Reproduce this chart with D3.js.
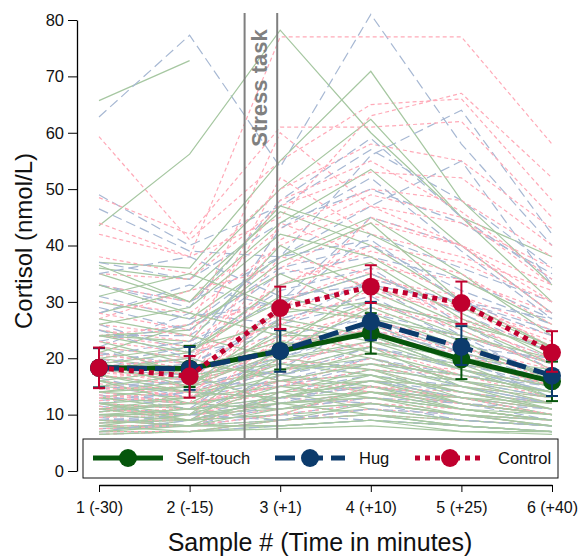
<!DOCTYPE html>
<html><head><meta charset="utf-8">
<script src="https://cdn.jsdelivr.net/npm/d3@7"></script>
<style>body{margin:0;background:#fff}svg{font-family:"Liberation Sans",Arial,sans-serif}</style>
</head><body><svg id="c" width="578" height="559"></svg>
<script>
const xLabels = ["1 (-30)","2 (-15)","3 (+1)","4 (+10)","5 (+25)","6 (+40)"];
const yTicks = [0,10,20,30,40,50,60,70,80];
const seriesNames = ["Self-touch","Hug","Control"];
const meanSelfTouch = [18.3, 18.2, 21.3, 24.5, 19.8, 15.9];
const loSelfTouch = [14.8, 14.9, 18.0, 20.8, 16.3, 12.4];
const hiSelfTouch = [21.8, 22.2, 25.0, 28.0, 23.4, 19.4];
const meanHug = [18.3, 18.1, 21.3, 26.5, 22.0, 16.9];
const loHug = [14.8, 14.4, 17.6, 23.2, 18.8, 13.3];
const hiHug = [21.8, 22.0, 25.0, 30.0, 25.7, 19.8];
const meanControl = [18.3, 16.8, 28.9, 32.7, 29.8, 21.0];
const loControl = [14.7, 13.0, 25.2, 29.8, 26.1, 17.6];
const hiControl = [21.9, 20.4, 32.7, 36.5, 33.6, 24.8];

const indivSelfTouch = [
 [65.7,72.8,null,null,null,null],[43.5,56.2,78.2,60,45,38],[37,36,55,70.9,48,33],[36,34,50,62.4,45,30],
 [35,30,44,53.5,40,28],[30,27,38,45,35,24],[28,32,46,40,30,22],[25,22,30,35,28,20],[24,23,40,32,25,18],
 [22,20,28,30,24,19],[21,26,35,28,22,17],[20,18,22,26,20,15],[19,17,24,24,18,14],[18,16,20,22,18,15],
 [17,15,18,20,16,13],[16,14,18,19,15,12],[15,14,16,17,14,12],[14,13,15,16,13,11],[13,12,14,15,12,10],
 [12,11,13,14,12,10],[11,10,12,13,11,9],[10,10,11,12,10,9],[9,9,10,11,9,8],[8,8,9,10,8,7],
 [7.5,8,8,9,8,7],[7,7,8,9,7,7],[13,15,25,21,17,14],[16,12,14,18,13,11],[11,13,19,17,12,10],
 [9.5,11,16,14,11,9],[23,19,17,21,19,16],[19,21,31,27,21,17],[14,16,22,25,19,13],[27,24,20,23,20,18],
 [12,10,22,33,26,19],[8.5,9,13,16,12,10],[10.5,12,20,18,14,11],[36.5,30,47,42,34,26],[24,25,37,44,30,22],
 [6.5,7,7.5,8,7,6.5],[7,9,12,10,8,7],[8,7,9,12,10,8],[9,8,14,11,9,8],[10,11,9,10,9,8],[11,9,10,15,13,10],
 [12,13,17,15,11,9],[13,11,12,14,13,12],[14,15,27,24,18,13],[15,17,12,13,11,10],[16,18,23,20,16,12],
 [17,14,13,16,15,13],[18,20,16,19,17,14],[19,15,21,29,23,16],[20,22,26,23,18,15],[22,17,19,18,16,14],
 [24,21,33,37,27,21],[26,29,42,38,29,22],[31,35,29,27,24,20],[33,28,24,30,26,22],[8,10,15,13,10,8],
 [9,8,8,9,8,7],[10,9,13,17,14,11],[11,12,11,12,10,9],[12,9,18,22,15,11],[7,8,11,14,11,9]
];
const indivHug = [
 [62.8,77.3,53.9,81,58,40],[49,40,47,57,48,36],[46.5,39,38,56,64,42],[37,34,44,50,44,35],[33,30,38,47,55,33],
 [31,27,30,45,40,28],[28,33,29,42,36,30],[24,24,35,38,34,27],[22,28,26,34,30,25],[21,19,26,30,26,20],
 [20,16,22,28,24,19],[18,17,20,25,21,17],[17,15,19,23,20,16],[16,14,18,22,18,15],[15,13,16,20,17,14],
 [14,12,15,18,16,13],[13,12,14,17,15,12],[12,11,13,15,13,11],[11,10,12,14,12,10],[10,9,11,13,11,9],
 [9,9,10,12,10,8],[8,8,9,11,9,8],[7,7,9,10,8,7],[26,21,24,27,22,20],[19,22,32,36,26,18],
 [12,14,20,26,20,13],[15,16,29,33,24,16],[33,29,48,59,45,34],
 [6.5,7,8,9,8,7],[7.5,8,10,9,8,7],[8.5,10,13,15,12,9],[9.5,8,12,16,13,10],[10.5,12,11,13,12,11],
 [11.5,10,17,20,15,12],[12.5,14,13,16,14,12],[13.5,11,22,24,18,14],[14.5,16,15,19,17,15],[16.5,13,18,27,21,16],
 [17.5,19,27,31,23,17],[18.5,20,17,22,19,15],[20.5,23,30,35,28,21],[23,26,38,41,30,24],[25,20,43,52,39,27],
 [29,25,36,40,32,26],[35,38,31,33,30,27],[9,10,9,11,10,9],[7,9,13,12,9,8]
];
const indivControl = [
 [59.3,41,55,65,66,48],[44,38,77,77,77,58],[48.5,42,61,61,62,45],[42,38,45,63,67,52],[38,35,50,58,55,43],
 [35,34,47,53,52,40],[33,30,43,50,48,38],[30,28,40,47,44,36],[27,32,36,44,40,33],[25,23,33,40,37,30],
 [24,26,30,36,34,28],[22,20,28,34,31,25],[21,18,27,31,29,24],[20,17,25,29,27,22],[19,16,24,28,26,20],
 [18,15,22,26,24,19],[17,15,21,25,22,18],[16,14,19,23,21,17],[15,13,18,21,19,16],[14,12,16,19,18,15],
 [13,12,15,18,17,14],[12,11,14,16,15,13],[11,10,13,15,14,12],[10,9,12,14,13,11],[9,9,11,13,12,10],
 [8,8,10,12,11,9],[7,7,9,11,10,8],[28,25,60,47,40,30],[24,22,52,42,38,32],
 [6.5,7,9,10,9,8],[7.5,8,13,12,10,9],[8.5,9,16,14,12,10],[9.5,10,20,18,14,11],[10.5,11,24,22,17,13],
 [11.5,9,17,26,21,15],[12.5,13,30,27,22,16],[13.5,12,36,33,27,19],[14.5,15,44,38,31,22],[15.5,13,21,30,25,18],
 [16.5,18,38,35,29,21],[17.5,16,28,45,40,28],[18.5,20,33,39,35,26],[20.5,19,41,49,45,33],[23,21,26,32,29,23],
 [26,24,48,55,46,34],[9,8,10,15,13,10],[11,12,15,20,16,12],[13,14,23,25,20,15]
];

const svg = d3.select("#c");
const x = d3.scalePoint().domain(xLabels).range([99,552]);
const y = d3.scaleLinear().domain([0,80]).range([471,20]);

const indivStyles = [
 {data: indivSelfTouch, color:"#a6c7a1", dash:null},
 {data: indivHug, color:"#a7b8d3", dash:"10,5"},
 {data: indivControl, color:"#ffaab8", dash:"4,3"}
];
const line = d3.line().defined(d=>d.v!=null).x(d=>x(d.k)).y(d=>y(d.v));
const toPts = arr => arr.map((v,i)=>({k:xLabels[i], v}));

const allIndiv = [];
const maxN = d3.max(indivStyles, s=>s.data.length);
for(let i=0;i<maxN;i++) indivStyles.forEach(s=>{ if(s.data[i]) allIndiv.push({vals:s.data[i], st:s}); });
svg.append("g").selectAll("path").data(allIndiv).join("path")
 .attr("d", d=>line(toPts(d.vals))).attr("fill","none")
 .attr("stroke", d=>d.st.color).attr("stroke-width",1.2)
 .attr("stroke-dasharray", d=>d.st.dash);

[x(xLabels[1]) + 55, x(xLabels[2]) - 3].forEach(px=>{
 svg.append("line").attr("x1",px).attr("x2",px).attr("y1",13).attr("y2",438)
  .attr("stroke","#7f7f7f").attr("stroke-width",2);
});
svg.append("text").attr("transform","translate(267,88) rotate(-90)").attr("text-anchor","middle")
 .attr("font-size",22).attr("font-weight","bold").attr("fill","#808080").text("Stress task");

const means = [
 {m:meanSelfTouch, lo:loSelfTouch, hi:hiSelfTouch, color:"#06560c", dash:null},
 {m:meanHug, lo:loHug, hi:hiHug, color:"#0c3b6c", dash:"20,8"},
 {m:meanControl, lo:loControl, hi:hiControl, color:"#c0002e", dash:"5,5"}
];
means.forEach(s=>{
 const g = svg.append("g");
 g.append("path").attr("d", line(toPts(s.m))).attr("fill","none").attr("stroke",s.color)
  .attr("stroke-width",5).attr("stroke-dasharray",s.dash);
 xLabels.forEach((k,i)=>{
  const cx = x(k);
  g.append("line").attr("x1",cx).attr("x2",cx).attr("y1",y(s.lo[i])).attr("y2",y(s.hi[i])).attr("stroke",s.color).attr("stroke-width",2);
  [s.lo[i], s.hi[i]].forEach(v=>g.append("line").attr("x1",cx-6).attr("x2",cx+6).attr("y1",y(v)).attr("y2",y(v)).attr("stroke",s.color).attr("stroke-width",2));
 });
 g.selectAll("circle").data(s.m).join("circle").attr("cx",(d,i)=>x(xLabels[i])).attr("cy",d=>y(d)).attr("r",9).attr("fill",s.color);
});

const ya = svg.append("g").attr("transform","translate(77,0)")
 .call(d3.axisLeft(y).tickValues(yTicks).tickSize(9).tickSizeOuter(0).tickPadding(4));
ya.selectAll("text").attr("font-size",16.5).attr("fill","#111").attr("font-family","Liberation Sans, Arial, sans-serif");
ya.select(".domain").attr("stroke-width",1.3);
const xa = svg.append("g").attr("transform","translate(0,485)")
 .call(d3.axisBottom(x).tickSize(7).tickSizeOuter(0).tickPadding(10));
xa.selectAll("text").attr("font-size",16).attr("fill","#111").attr("font-family","Liberation Sans, Arial, sans-serif");
xa.select(".domain").attr("stroke-width",1.3);

svg.append("text").attr("transform","translate(32,241) rotate(-90)").attr("text-anchor","middle")
 .attr("font-size",24).attr("fill","#111").text("Cortisol (nmol/L)");
svg.append("text").attr("x",320).attr("y",551).attr("text-anchor","middle")
 .attr("font-size",25).attr("fill","#111").text("Sample # (Time in minutes)");

const lg = svg.append("g");
lg.append("rect").attr("x",83).attr("y",439).attr("width",475).attr("height",39).attr("fill","#fff").attr("stroke","#111").attr("stroke-width",1);
const legX = [93, 275, 415];
const legTX = [176, 359, 498];
means.forEach((s,i)=>{
 lg.append("line").attr("x1",legX[i]).attr("x2",legX[i]+70).attr("y1",458).attr("y2",458)
  .attr("stroke",s.color).attr("stroke-width",5).attr("stroke-dasharray",s.dash);
 lg.append("circle").attr("cx",legX[i]+35).attr("cy",458).attr("r",9).attr("fill",s.color);
 lg.append("text").attr("x",legTX[i]).attr("y",464).attr("font-size",16.5).attr("fill","#111").text(seriesNames[i]);
});
</script></body></html>
